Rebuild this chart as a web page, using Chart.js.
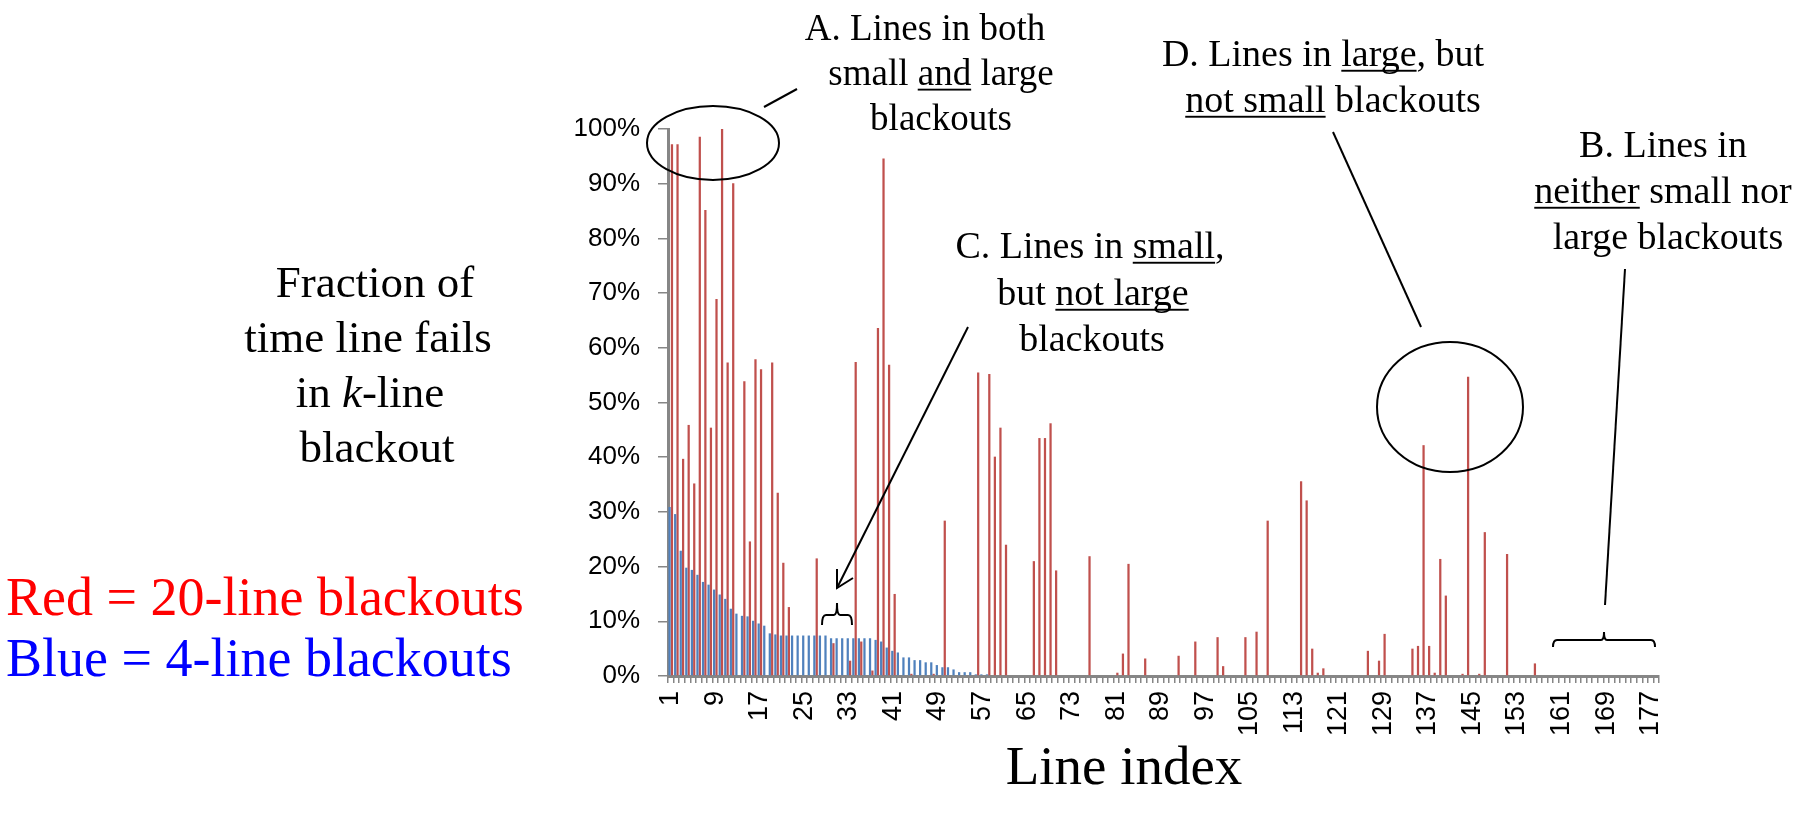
<!DOCTYPE html>
<html>
<head>
<meta charset="utf-8">
<script src="https://cdn.jsdelivr.net/npm/chart.js@4.4.1/dist/chart.umd.min.js"></script>
<style>
  html, body { margin: 0; padding: 0; background: #fff; overflow: hidden; }
  #wrap { width: 1817px; height: 817px; }
</style>
</head>
<body>
<div id="wrap"><canvas id="myChart" width="1817" height="817"></canvas></div>
<script>
// line index 1..178
const lineIndex = [];
for (let i = 1; i <= 178; i++) lineIndex.push(i);

const tickLabels = [1, 9, 17, 25, 33, 41, 49, 57, 65, 73, 81, 89, 97, 105, 113, 121, 129, 137, 145, 153, 161, 169, 177];

// 4-line blackouts (blue), percent
const blueValues = [
  30.9, 29.6, 22.9, 19.8, 19.4, 18.5, 17.2, 16.7, 15.8, 14.9,
  14.1, 12.3, 11.4, 11.0, 10.9, 10.1, 9.6, 9.2, 7.8, 7.6,
  7.4, 7.4, 7.4, 7.4, 7.4, 7.4, 7.4, 7.4, 7.4, 6.9,
  6.9, 6.9, 6.9, 6.9, 6.9, 6.9, 6.9, 6.6, 6.3, 5.2,
  4.6, 4.3, 3.4, 3.4, 2.9, 2.9, 2.5, 2.5, 2.0, 1.6,
  1.6, 1.2, 0.7, 0.7, 0.7, 0.3, 0.3, 0.3, 0, 0,
  0, 0, 0, 0, 0, 0, 0, 0, 0, 0,
  0, 0, 0, 0, 0, 0, 0, 0, 0, 0,
  0, 0, 0, 0, 0, 0, 0, 0, 0, 0,
  0, 0, 0, 0, 0, 0, 0, 0, 0, 0,
  0, 0, 0, 0, 0, 0, 0, 0, 0, 0,
  0, 0, 0, 0, 0, 0, 0, 0, 0, 0,
  0, 0, 0, 0, 0, 0, 0, 0, 0, 0,
  0, 0, 0, 0, 0, 0, 0, 0, 0, 0,
  0, 0, 0, 0, 0, 0, 0, 0, 0, 0,
  0, 0, 0, 0, 0, 0, 0, 0, 0, 0,
  0, 0, 0, 0, 0, 0, 0, 0, 0, 0,
  0, 0, 0, 0, 0, 0, 0, 0
];

// 20-line blackouts (red), percent
const redValues = [
  97.2, 97.2, 39.7, 45.9, 35.2, 98.6, 85.2, 45.4, 68.9, 100,
  57.3, 90.1, 0, 53.9, 24.6, 57.9, 56.1, 0, 57.3, 33.5,
  20.7, 12.6, 0, 0, 0, 0, 21.5, 0, 0, 6.0,
  0, 0, 2.8, 57.4, 6.3, 0, 1.0, 63.6, 94.6, 56.9,
  15.0, 0, 0, 0.4, 0, 0, 0, 0.4, 0, 28.4,
  0, 0, 0, 0, 0, 55.5, 0, 55.2, 40.1, 45.4,
  24.0, 0, 0, 0, 0, 21.0, 43.5, 43.5, 46.2, 19.3,
  0, 0, 0, 0, 0, 21.9, 0, 0, 0, 0,
  0.6, 4.1, 20.5, 0, 0, 3.2, 0, 0, 0, 0,
  0, 3.7, 0, 0, 6.3, 0, 0, 0, 7.1, 1.8,
  0, 0, 0, 7.1, 0, 8.1, 0, 28.4, 0, 0,
  0, 0, 0, 35.6, 32.1, 5.0, 0.6, 1.4, 0, 0,
  0, 0, 0, 0, 0, 4.6, 0, 2.8, 7.7, 0,
  0, 0, 0, 5.0, 5.5, 42.2, 5.5, 0.6, 21.4, 14.7,
  0, 0, 0.4, 54.7, 0, 0.4, 26.3, 0, 0, 0,
  22.3, 0, 0, 0, 0, 2.3, 0, 0, 0, 0,
  0, 0, 0, 0, 0, 0, 0, 0, 0, 0,
  0, 0, 0, 0, 0, 0, 0, 0
];

const yTicks = [0, 10, 20, 30, 40, 50, 60, 70, 80, 90, 100];

const SERIF = '"Liberation Serif", "Times New Roman", serif';
const SANS = '"Liberation Sans", Arial, sans-serif';
const axisGray = '#868686';

// one row of text, centred on cx; parts = [text, underline, italic]
function textRow(ctx, cx, baseY, size, parts) {
  const widths = parts.map(p => {
    ctx.font = (p[2] ? 'italic ' : '') + size + 'px ' + SERIF;
    return ctx.measureText(p[0]).width;
  });
  const total = widths.reduce((a, b) => a + b, 0);
  let x = cx - total / 2;
  parts.forEach((p, i) => {
    ctx.font = (p[2] ? 'italic ' : '') + size + 'px ' + SERIF;
    ctx.fillText(p[0], x, baseY);
    if (p[1]) {
      ctx.fillRect(x, baseY + size * 0.1, widths[i], Math.max(1.5, size * 0.05));
    }
    x += widths[i];
  });
}

function seg(ctx, pts) {
  ctx.beginPath();
  ctx.moveTo(pts[0][0], pts[0][1]);
  for (let i = 1; i < pts.length; i++) ctx.lineTo(pts[i][0], pts[i][1]);
  ctx.stroke();
}

function brace(ctx, x1, x2, y, drop, peak) {
  const xm = (x1 + x2) / 2;
  ctx.beginPath();
  ctx.moveTo(x1, y + drop);
  ctx.quadraticCurveTo(x1, y, x1 + 4, y);
  ctx.lineTo(xm - 3, y);
  ctx.quadraticCurveTo(xm, y, xm, y - peak);
  ctx.quadraticCurveTo(xm, y, xm + 3, y);
  ctx.lineTo(x2 - 4, y);
  ctx.quadraticCurveTo(x2, y, x2, y + drop);
  ctx.stroke();
}

const notes = {
  id: 'notes',
  afterDraw(chart) {
    const ctx = chart.ctx;
    ctx.save();
    ctx.fillStyle = '#000';
    ctx.strokeStyle = '#000';
    ctx.lineWidth = 2;
    ctx.textBaseline = 'alphabetic';
    ctx.textAlign = 'left';

    // A
    textRow(ctx, 925, 40, 37, [['A. Lines in both']]);
    textRow(ctx, 941, 85, 37, [['small '], ['and', true], [' large']]);
    textRow(ctx, 941, 130, 37, [['blackouts']]);
    ctx.beginPath();
    ctx.ellipse(713, 143, 66, 37, 0, 0, Math.PI * 2);
    ctx.stroke();
    seg(ctx, [[764, 107], [797, 89]]);

    // D
    textRow(ctx, 1323, 66, 38, [['D. Lines in '], ['large', true], [', but']]);
    textRow(ctx, 1333, 112, 38, [['not small', true], [' blackouts']]);
    seg(ctx, [[1333, 132], [1421, 327]]);
    ctx.beginPath();
    ctx.ellipse(1450, 407, 73, 65, 0, 0, Math.PI * 2);
    ctx.stroke();

    // B
    textRow(ctx, 1663, 157, 38, [['B. Lines in']]);
    textRow(ctx, 1663, 203, 38, [['neither', true], [' small nor']]);
    textRow(ctx, 1668, 249, 38, [['large blackouts']]);
    seg(ctx, [[1625, 269], [1605, 605]]);
    brace(ctx, 1553, 1655, 640, 7, 8);

    // C
    textRow(ctx, 1090, 258, 38, [['C. Lines in '], ['small', true], [',']]);
    textRow(ctx, 1093, 305, 38, [['but '], ['not large', true]]);
    textRow(ctx, 1092, 351, 38, [['blackouts']]);
    seg(ctx, [[968, 327], [837, 588]]);
    seg(ctx, [[837, 569], [837, 588], [853, 578]]);
    brace(ctx, 822, 852, 615, 10, 12);

    // left title
    textRow(ctx, 375, 297, 45, [['Fraction of']]);
    textRow(ctx, 368, 352, 45, [['time line fails']]);
    textRow(ctx, 370, 407, 45, [['in '], ['k', false, true], ['-line']]);
    textRow(ctx, 377, 462, 45, [['blackout']]);

    // colour key
    ctx.font = '54px ' + SERIF;
    ctx.fillStyle = '#ff0000';
    ctx.fillText('Red = 20-line blackouts', 6, 615);
    ctx.fillStyle = '#0000ff';
    ctx.fillText('Blue = 4-line blackouts', 6, 676);

    // x title
    ctx.fillStyle = '#000';
    ctx.font = '55px ' + SERIF;
    ctx.textAlign = 'center';
    ctx.fillText('Line index', 1124, 784);
    ctx.restore();
  }
};

const data = {
  labels: lineIndex,
  datasets: [{
    label: '4-line blackouts',
    data: blueValues,
    backgroundColor: '#4F81BD',
    categoryPercentage: 0.85,
    barPercentage: 0.95
  }, {
    label: '20-line blackouts',
    data: redValues,
    backgroundColor: '#C0504D',
    categoryPercentage: 0.85,
    barPercentage: 0.95
  }]
};

const config = {
  type: 'bar',
  data,
  options: {
    responsive: false,
    animation: false,
    layout: {
      padding: { left: 568, right: 158, top: 129, bottom: 41 }
    },
    scales: {
      x: {
        afterFit: (s) => { s.height = 100; },
        grid: {
          drawOnChartArea: false,
          tickLength: 7,
          color: axisGray,
          lineWidth: 1.5
        },
        border: { color: axisGray, width: 3 },
        ticks: {
          autoSkip: false,
          minRotation: 90,
          maxRotation: 90,
          padding: 8,
          color: '#000',
          font: { family: SANS, size: 27 },
          callback: function (val, index) {
            return tickLabels.includes(lineIndex[index]) ? String(lineIndex[index]) : '';
          }
        }
      },
      y: {
        min: 0,
        max: 100,
        afterFit: (s) => { s.width = 100; },
        afterBuildTicks: (s) => { s.ticks = yTicks.map(v => ({ value: v })); },
        grid: {
          drawOnChartArea: false,
          tickLength: 10,
          color: axisGray,
          lineWidth: 1.5
        },
        border: { color: axisGray, width: 3 },
        ticks: {
          padding: 18,
          color: '#000',
          font: { family: SANS, size: 26 },
          callback: (v) => v + '%'
        }
      }
    },
    plugins: {
      legend: { display: false },
      tooltip: { enabled: false }
    }
  },
  plugins: [notes]
};

const myChart = new Chart(document.getElementById('myChart'), config);
</script>
</body>
</html>
